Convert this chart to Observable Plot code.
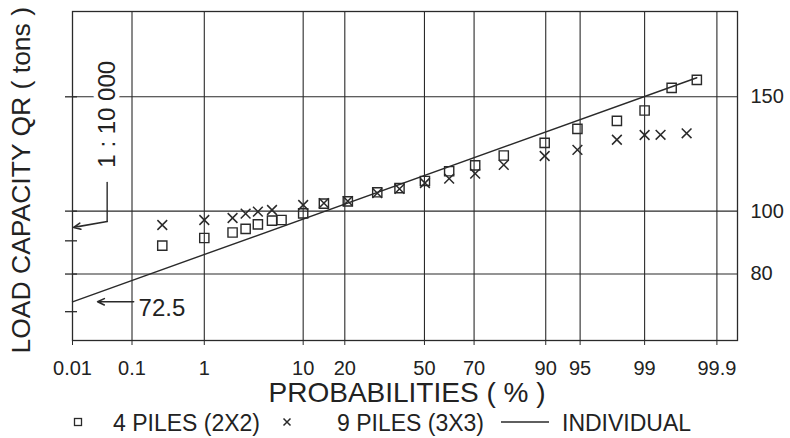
<!DOCTYPE html>
<html>
<head>
<meta charset="utf-8">
<script src="https://cdn.jsdelivr.net/npm/d3@7"></script>
<script src="https://cdn.jsdelivr.net/npm/@observablehq/plot@0.6"></script>
<style>
  html, body { margin: 0; padding: 0; background: #fff; }
  #wrap { position: relative; width: 790px; height: 438px; overflow: hidden;
          font-family: 'Liberation Sans', Arial, Helvetica, sans-serif; color: #222; }
  #legend { position: absolute; left: 0; top: 405px; width: 790px; height: 33px; font-size: 23px; }
  #legend .item { position: absolute; top: 6px; line-height: 24px; white-space: nowrap; }
  #legend svg { position: absolute; overflow: visible; }
</style>
</head>
<body>
<div id="wrap"><div id="legend"></div></div>
<script>
// ---- axis ticks ----
const probTicks = [0.01, 0.1, 1, 10, 20, 50, 70, 90, 95, 99, 99.9];
const probTickLabels = ["0.01", "0.1", "1", "10", "20", "50", "70", "90", "95", "99", "99.9"];
const gridLoads = [80, 100, 150];
const leftTickLoads = [70, 80, 90, 100, 150];
const rightTickLoads = [80, 100, 150];
const probDomain = [0.01, 99.953];
const loadDomain = [63.2, 203];

// ---- series: 4 piles (2X2) ----
const piles4Prob = [0.28, 1, 2.13, 2.94, 3.92, 5.36, 6.55, 10, 14.4, 20.9, 30.9, 39.6, 50.2, 60.3, 70.4, 79.9, 89.8, 94.7, 97.9, 99.0, 99.55, 99.8];
const piles4Load = [88.5, 90.9, 92.7, 93.9, 95.4, 96.7, 96.9, 99.2, 102.7, 103.5, 106.9, 108.5, 111.3, 115.2, 117.6, 121.8, 127.4, 133.9, 137.7, 142.9, 154.8, 159.3];

// ---- series: 9 piles (3X3) ----
const piles9Prob = [0.28, 1, 2.13, 2.94, 3.92, 5.36, 10, 14.4, 20.9, 30.9, 39.6, 50.2, 60.3, 70.4, 79.9, 89.8, 94.7, 97.9, 99.0, 99.37, 99.72];
const piles9Load = [95.2, 96.9, 97.6, 99.1, 99.8, 100.4, 102.2, 102.9, 103.6, 106.6, 108.2, 110.5, 112.2, 114.2, 117.8, 121.6, 124.3, 128.8, 131.0, 131.1, 131.8];

// ---- series: individual pile (straight line) ----
const individualProb = [0.01, 99.8];
const individualLoad = [72.5, 160.5];

// ---- annotations (data space) ----
const ratioText = "1 : 10 000";
const ratioTextAt = {p: 0.04, q: 141};
const ratioLeaderProb = [0.04, 0.04];
const ratioLeaderLoad = [110.7, 96.4];
const ratioArrow = {p1: 0.04, q1: 96.4, p2: 0.0105, q2: 94.4};
const valueText = "72.5";
const valueTextAt = {p: 0.126, q: 70.8};
const valueArrow = {p1: 0.106, q1: 72.5, p2: 0.0276, q2: 72.5};

// ---- texts ----
const xTitle = "PROBABILITIES ( % )";
const yTitle = "LOAD CAPACITY QR ( tons )";
const legendLabels = ["4 PILES (2X2)", "9 PILES (3X3)", "INDIVIDUAL"];

// inverse standard normal CDF (Acklam) for normal-probability paper
function probit(p) {
  const a = [-3.969683028665376e+01, 2.209460984245205e+02, -2.759285104469687e+02, 1.383577518672690e+02, -3.066479806614716e+01, 2.506628277459239e+00];
  const b = [-5.447609879822406e+01, 1.615858368580409e+02, -1.556989798598866e+02, 6.680131188771972e+01, -1.328068155288572e+01];
  const c = [-7.784894002430293e-03, -3.223964580411365e-01, -2.400758277161838e+00, -2.549732539343734e+00, 4.374664141464968e+00, 2.938163982698783e+00];
  const d = [7.784695709041462e-03, 3.224671290700398e-01, 2.445134137142996e+00, 3.754408661907416e+00];
  const plow = 0.02425, phigh = 1 - plow;
  let q, r;
  if (p < plow) {
    q = Math.sqrt(-2 * Math.log(p));
    return (((((c[0]*q+c[1])*q+c[2])*q+c[3])*q+c[4])*q+c[5]) / ((((d[0]*q+d[1])*q+d[2])*q+d[3])*q+1);
  }
  if (p <= phigh) {
    q = p - 0.5; r = q * q;
    return (((((a[0]*r+a[1])*r+a[2])*r+a[3])*r+a[4])*r+a[5])*q / (((((b[0]*r+b[1])*r+b[2])*r+b[3])*r+b[4])*r+1);
  }
  q = Math.sqrt(-2 * Math.log(1 - p));
  return -(((((c[0]*q+c[1])*q+c[2])*q+c[3])*q+c[4])*q+c[5]) / ((((d[0]*q+d[1])*q+d[2])*q+d[3])*q+1);
}
const z = (pct) => probit(pct / 100);

const tickZ = probTicks.map(z);
const piles4 = piles4Prob.map((p, i) => ({z: z(p), q: piles4Load[i]}));
const piles9 = piles9Prob.map((p, i) => ({z: z(p), q: piles9Load[i]}));
const individual = individualProb.map((p, i) => ({z: z(p), q: individualLoad[i]}));
const ratioLeader = ratioLeaderProb.map((p, i) => ({z: z(p), q: ratioLeaderLoad[i]}));

const ink = "#2a2a2a";
const txt = "#222";
const font = "'Liberation Sans', Arial, Helvetica, sans-serif";

const chart = Plot.plot({
  width: 790,
  height: 405,
  marginLeft: 72,
  marginRight: 53,
  marginTop: 11,
  marginBottom: 65,
  style: {fontFamily: font, fontSize: "20px", color: txt, background: "#fff", overflow: "visible"},
  x: {type: "linear", domain: probDomain.map(z)},
  y: {type: "log", domain: loadDomain},
  marks: [
    Plot.gridX({ticks: tickZ.slice(1), stroke: ink, strokeOpacity: 1, strokeWidth: 1.1}),
    Plot.gridY({ticks: gridLoads, stroke: ink, strokeOpacity: 1, strokeWidth: 1.1}),
    Plot.frame({stroke: ink, strokeWidth: 1.3}),
    Plot.axisX({ticks: tickZ, tickSize: 5, fill: "none", stroke: ink, label: null}),
    Plot.axisX({ticks: tickZ, tickSize: 0, tickPadding: 20, fontSize: 20, fill: txt, label: null,
      tickFormat: (v) => probTickLabels[tickZ.indexOf(v)]}),
    Plot.axisY({anchor: "left", ticks: leftTickLoads, tickSize: 12, dx: 5, fill: "none", stroke: ink, strokeWidth: 1.3, label: null}),
    Plot.axisY({anchor: "right", ticks: rightTickLoads, tickSize: 0, tickPadding: 13, fontSize: 20, fill: txt, label: null,
      tickFormat: (v) => String(v)}),
    // individual pile line
    Plot.line(individual, {x: "z", y: "q", stroke: ink, strokeWidth: 1.4}),
    // 4 piles: squares
    Plot.dot(piles4, {x: "z", y: "q", symbol: "square", r: 5.2, fill: "none", stroke: ink, strokeWidth: 1.4}),
    // 9 piles: crosses
    Plot.dot(piles9, {x: "z", y: "q", symbol: "times", r: 4.5, fill: "none", stroke: ink, strokeWidth: 1.5}),
    // annotation 1 : 10 000
    Plot.text([ratioTextAt], {x: (d) => z(d.p), y: "q", text: () => ratioText, rotate: -90, fontSize: 24,
      fill: txt, stroke: "#fff", strokeWidth: 9}),
    Plot.line(ratioLeader, {x: "z", y: "q", stroke: ink, strokeWidth: 1.4}),
    Plot.arrow([ratioArrow], {x1: (d) => z(d.p1), y1: "q1", x2: (d) => z(d.p2), y2: "q2",
      stroke: ink, strokeWidth: 1.6, headLength: 7, headAngle: 50}),
    // annotation 72.5
    Plot.arrow([valueArrow], {x1: (d) => z(d.p1), y1: "q1", x2: (d) => z(d.p2), y2: "q2",
      stroke: ink, strokeWidth: 1.6, headLength: 7, headAngle: 50}),
    Plot.text([valueTextAt], {x: (d) => z(d.p), y: "q", text: () => valueText, textAnchor: "start", fontSize: 24, fill: txt}),
    // axis titles
    Plot.text([xTitle], {frameAnchor: "bottom", dx: 2, dy: 61, fontSize: 28, fill: txt}),
    Plot.text([yTitle], {frameAnchor: "bottom-left", rotate: -90, textAnchor: "start", dx: -43, dy: 13, fontSize: 26.5, fill: txt})
  ]
});

const wrap = document.getElementById("wrap");
wrap.insertBefore(chart, wrap.firstChild);

// legend (HTML, below the SVG)
const legend = document.getElementById("legend");
const svgNS = "http://www.w3.org/2000/svg";
function addSvg(left, top, w, h, build) {
  const s = document.createElementNS(svgNS, "svg");
  s.setAttribute("width", w); s.setAttribute("height", h);
  s.style.left = left + "px"; s.style.top = top + "px";
  build(s);
  legend.appendChild(s);
}
function el(name, attrs) {
  const e = document.createElementNS(svgNS, name);
  for (const k in attrs) e.setAttribute(k, attrs[k]);
  return e;
}
function addText(left, label) {
  const s = document.createElement("span");
  s.className = "item"; s.style.left = left + "px"; s.textContent = label;
  legend.appendChild(s);
}
addSvg(73, 12, 10, 10, (s) => s.appendChild(el("rect", {x: 1.5, y: 1.5, width: 7, height: 7, fill: "none", stroke: ink, "stroke-width": 1.3})));
addText(113, legendLabels[0]);
addSvg(282, 12, 10, 10, (s) => {
  s.appendChild(el("path", {d: "M1.5,1.5L8.5,8.5M8.5,1.5L1.5,8.5", stroke: ink, "stroke-width": 1.5}));
});
addText(337, legendLabels[1]);
addSvg(501, 16, 48, 2, (s) => s.appendChild(el("line", {x1: 0, y1: 1, x2: 48, y2: 1, stroke: ink, "stroke-width": 1.3})));
addText(562, legendLabels[2]);
</script>
</body>
</html>
